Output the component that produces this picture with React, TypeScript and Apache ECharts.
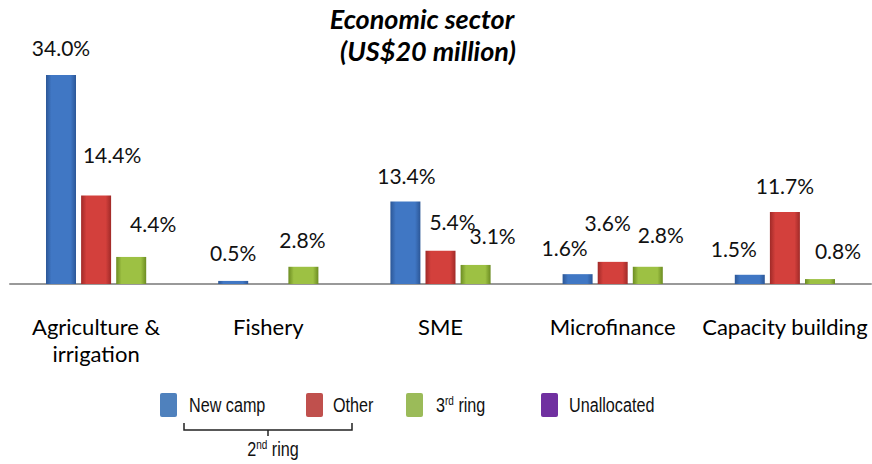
import React, { useEffect, useRef } from "react";
import * as echarts from "echarts";

const categories = ["Agriculture &\nirrigation", "Fishery", "SME", "Microfinance", "Capacity building"];
const newCamp = [34.0, 0.5, 13.4, 1.6, 1.5];
const other = [14.4, null, 5.4, 3.6, 11.7];
const thirdRing = [4.4, 2.8, 3.1, 2.8, 0.8];

// label nudges (style only): [dx, dy]
const newCampLabelOffsets = [[0, -1], [0, -2], [1, 0], [-13, 0], [-16, 0]];
const otherLabelOffsets = [[16, -14], [0, 0], [12, -3], [-5, -13], [0, 0]];
const thirdLabelOffsets = [[22, -7], [-1, -1], [17, -3], [13, -6], [18, -2]];

const FONT = "Lato, 'Open Sans', sans-serif";
const LEG_FONT = "'Liberation Sans', Arial, sans-serif";

function grad(edge: string, mid: string) {
  return new echarts.graphic.LinearGradient(0, 0, 1, 0, [
    { offset: 0, color: edge },
    { offset: 0.18, color: mid },
    { offset: 0.82, color: mid },
    { offset: 1, color: edge },
  ]);
}

function mk(values: (number | null)[], offs: number[][]) {
  return values.map((v, i) =>
    v === null ? "-" : { value: v, label: { offset: offs[i] } }
  );
}

export default function App() {
  const ref = useRef<HTMLDivElement>(null);
  useEffect(() => {
    const chart = echarts.init(ref.current!, null, { renderer: "svg" });
    const label = {
      show: true,
      position: "top",
      distance: 16,
      color: "#111",
      fontFamily: FONT,
      fontSize: 21,
      formatter: (p: any) => Number(p.value).toFixed(1) + "%",
    };
    const legendItems = [
      { name: "New camp", color: "#4f81bd", x: 160, tx: 189 },
      { name: "Other", color: "#c0504d", x: 306, tx: 333 },
      { name: "3{sup|rd} ring", color: "#9bbb59", x: 406, tx: 436 },
      { name: "Unallocated", color: "#7030a0", x: 541, tx: 569 },
    ];
    const rich = {
      sup: { fontSize: 13, fontFamily: LEG_FONT, color: "#111", padding: [0, 0, 10, 0] },
    };
    const titleStyle = {
      fontFamily: FONT,
      fontSize: 27,
      fontWeight: "bold",
      fontStyle: "italic",
      align: "center",
      verticalAlign: "middle",
      fill: "#000",
    };
    const graphics: any[] = [
      { type: "text", x: 422, y: 18, style: { ...titleStyle, text: "Economic sector" } },
      { type: "text", x: 428, y: 50, style: { ...titleStyle, text: "(US$20 million)" } },
    ];
    legendItems.forEach((it) => {
      graphics.push({
        type: "rect",
        shape: { x: it.x, y: 393, width: 17, height: 24, r: 2 },
        style: { fill: it.color },
      });
      graphics.push({
        type: "text",
        x: it.tx,
        y: 405,
        scaleX: 0.77,
        style: {
          text: it.name,
          fontFamily: LEG_FONT,
          fontSize: 21,
          fill: "#111",
          verticalAlign: "middle",
          rich,
        },
      });
    });
    graphics.push({
      type: "polyline",
      shape: { points: [[184, 423], [184, 430], [352, 430], [352, 423]] },
      style: { stroke: "#222", lineWidth: 1.5, fill: null },
    });
    graphics.push({
      type: "line",
      shape: { x1: 268, y1: 430, x2: 268, y2: 436 },
      style: { stroke: "#222", lineWidth: 1.5 },
    });
    graphics.push({
      type: "text",
      x: 273,
      y: 449,
      scaleX: 0.77,
      style: {
        text: "2{sup|nd} ring",
        fontFamily: LEG_FONT,
        fontSize: 21,
        fill: "#111",
        align: "center",
        verticalAlign: "middle",
        rich,
      },
    });

    chart.setOption({
      animation: false,
      grid: { left: 10, right: 1, top: 38, bottom: 180, containLabel: false },
      xAxis: {
        type: "category",
        data: categories,
        axisLine: { lineStyle: { color: "#999999", width: 2 } },
        axisTick: { show: false },
        axisLabel: {
          color: "#000",
          fontFamily: FONT,
          fontSize: 22,
          margin: 29,
          lineHeight: 27,
          interval: 0,
        },
      },
      yAxis: { type: "value", min: 0, max: 40, show: false, splitLine: { show: false } },
      series: [
        {
          name: "New camp",
          type: "bar",
          barWidth: 30,
          barGap: "17%",
          data: mk(newCamp, newCampLabelOffsets),
          itemStyle: { color: grad("#2c5797", "#4077c4") },
          label,
        },
        {
          name: "Other",
          type: "bar",
          barWidth: 30,
          barGap: "17%",
          data: mk(other, otherLabelOffsets),
          itemStyle: { color: grad("#a02a28", "#d3403c") },
          label,
        },
        {
          name: "3rd ring",
          type: "bar",
          barWidth: 30,
          barGap: "17%",
          data: mk(thirdRing, thirdLabelOffsets),
          itemStyle: { color: grad("#6c8c22", "#9dc143") },
          label,
        },
      ],
      graphic: graphics,
    });
    return () => chart.dispose();
  }, []);
  return (
    <div
      ref={ref}
      style={{ position: "fixed", left: 0, top: 0, width: 872, height: 464, background: "#fff" }}
    />
  );
}
